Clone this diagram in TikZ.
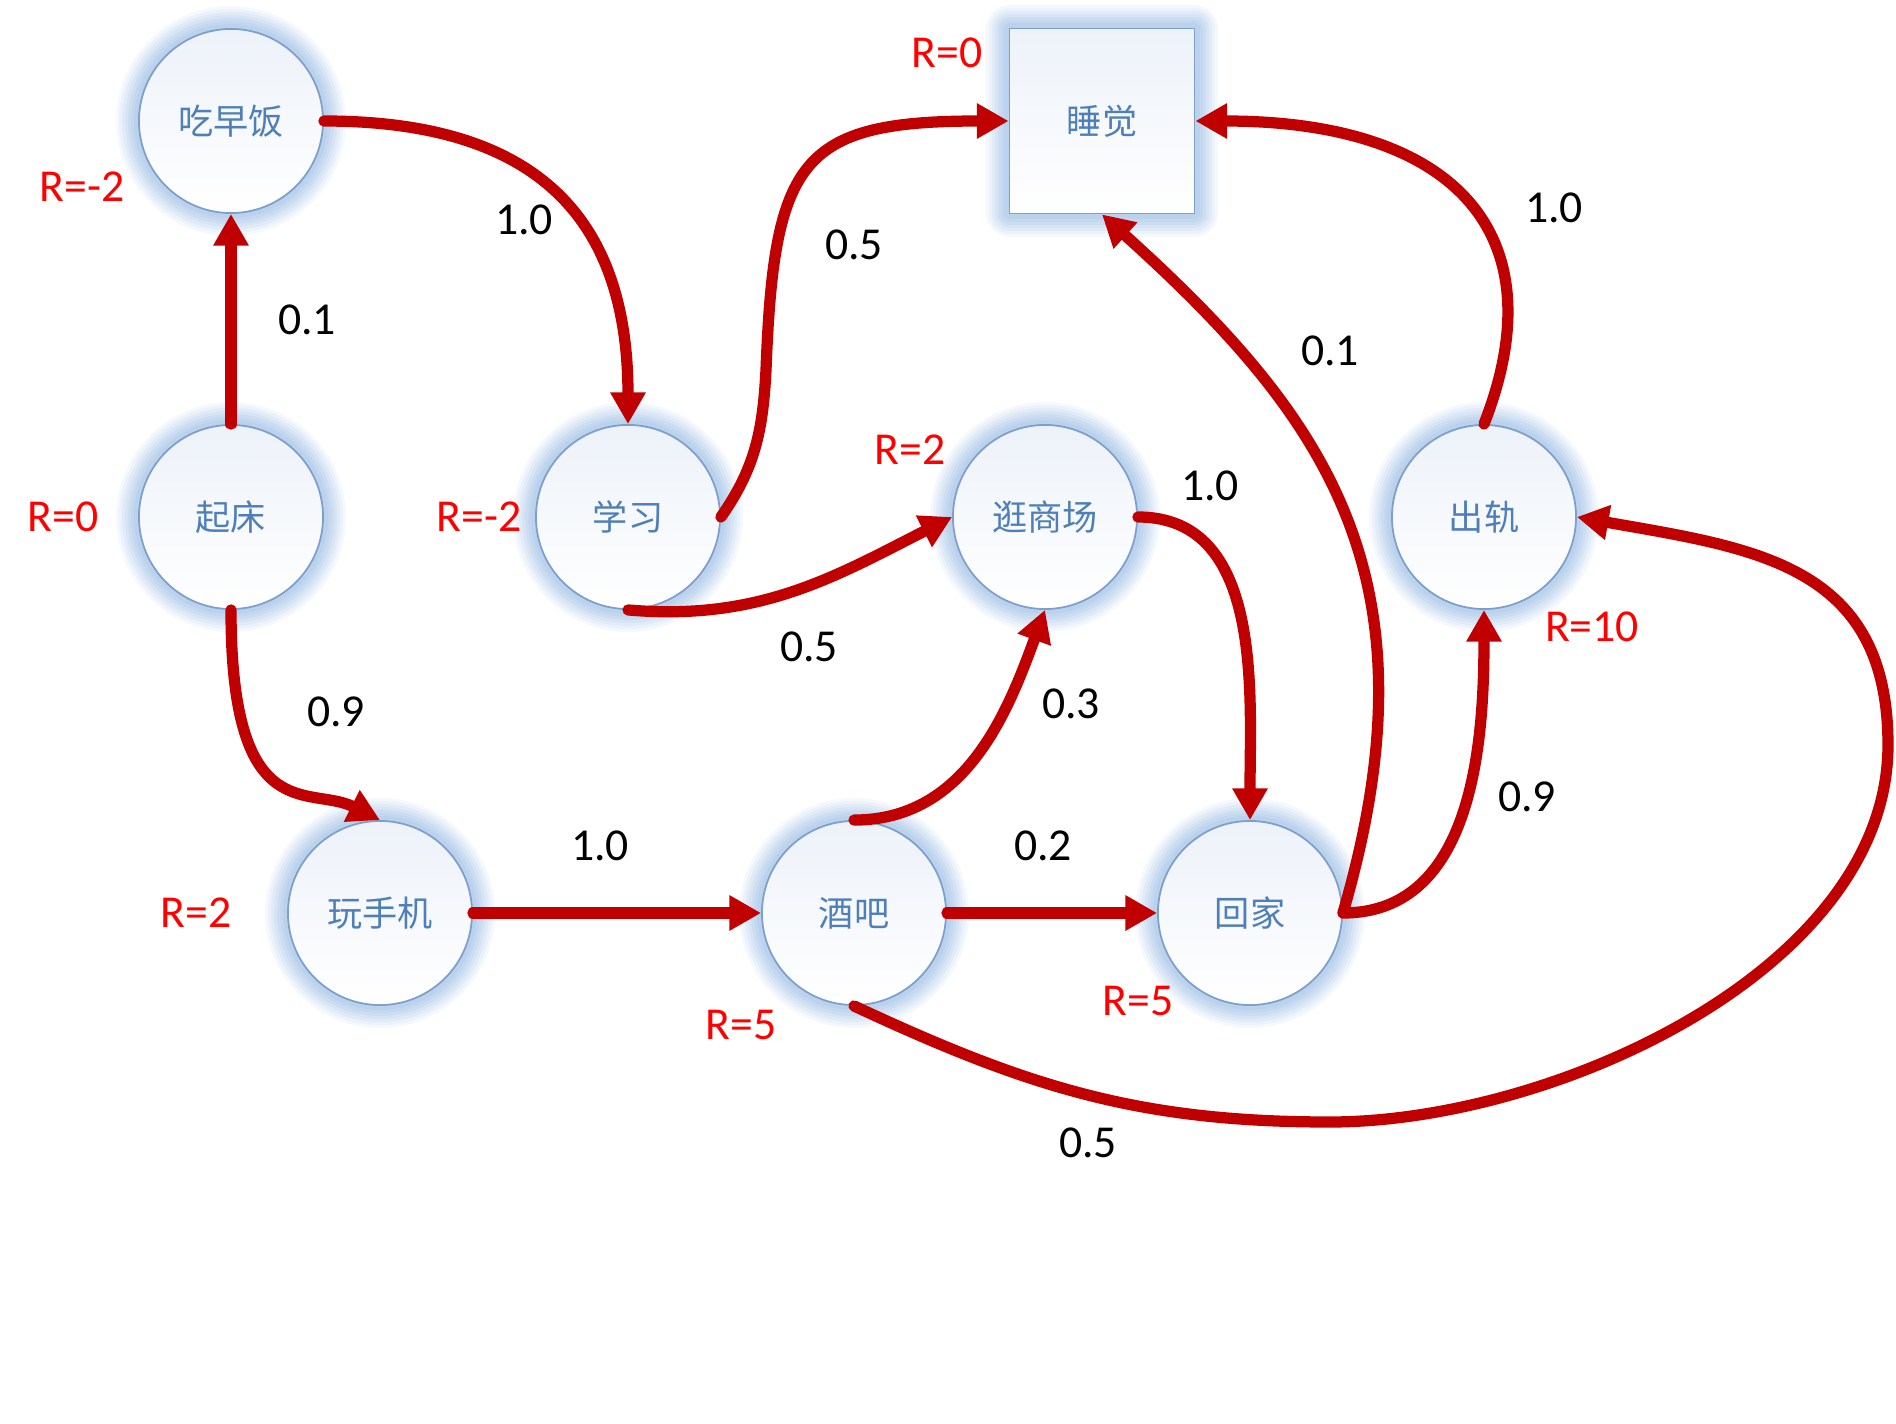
\documentclass[tikz,border=0pt]{standalone}
\usepackage{fontspec}
\setmainfont{Carlito}
\newfontfamily\cjk{Noto Sans CJK SC}
\usetikzlibrary{arrows.meta}

\definecolor{arrowred}{HTML}{C00000}
\definecolor{rewardred}{HTML}{FF0000}
\definecolor{statetext}{HTML}{4F7FB8}
\definecolor{stateline}{HTML}{7E9FCB}
\definecolor{statetop}{HTML}{EDF2F9}
\definecolor{glowblue}{HTML}{9FC0E6}

\tikzset{
  glow/.style={line join=round,
               preaction={draw=glowblue, line width=0.46cm, opacity=0.1},
               preaction={draw=glowblue, line width=0.40cm, opacity=0.12},
               preaction={draw=glowblue, line width=0.34cm, opacity=0.14},
               preaction={draw=glowblue, line width=0.28cm, opacity=0.16},
               preaction={draw=glowblue, line width=0.22cm, opacity=0.18},
               preaction={draw=glowblue, line width=0.16cm, opacity=0.2},
               preaction={draw=glowblue, line width=0.10cm, opacity=0.22}},
  state/.style={circle, minimum size=1.84cm, inner sep=0pt, draw=stateline, line width=0.5pt,
                top color=statetop, bottom color=white, glow, text=statetext,
                font=\cjk\fontsize{10}{12}\selectfont},
  endstate/.style={state, rectangle, minimum size=1.85cm},
  reward/.style={text=rewardred, font=\fontsize{13}{15}\selectfont},
  prob/.style={text=black, font=\fontsize{13}{15}\selectfont},
  flow/.style={draw=arrowred, line width=3.2pt, line cap=round,
               -{Triangle[length=9pt,width=9.5pt]}}
}

\begin{document}
\begin{tikzpicture}[x=0.01cm, y=-0.01cm]
    \useasboundingbox (0,0) rectangle (1896,1424);

    % states
    \node[state] (bf) at (231,121) {吃早饭};
    \node[state] (getup) at (231,517) {起床};
    \node[state] (study) at (628,517) {学习};
    \node[state] (mall) at (1045,517) {逛商场};
    \node[state] (cheat) at (1484,517) {出轨};
    \node[state] (phone) at (380,913) {玩手机};
    \node[state] (bar) at (854,913) {酒吧};
    \node[state] (home) at (1250,913) {回家};
    \node[endstate] (sleep) at (1102,121) {睡觉};

    % rewards
    \node[reward] (rbf) at (82,187) {R=-2};
    \node[reward] (rgetup) at (63,517) {R=0};
    \node[reward] (rstudy) at (479,517) {R=-2};
    \node[reward] (rmall) at (910,450) {R=2};
    \node[reward] (rsleep) at (947,53) {R=0};
    \node[reward] (rcheat) at (1592,627) {R=10};
    \node[reward] (rphone) at (196,913) {R=2};
    \node[reward] (rbar) at (741,1025) {R=5};
    \node[reward] (rhome) at (1138,1001) {R=5};

    % transitions
    \draw[flow] (getup) -- (bf);
    \draw[flow] (bf.east) to[out=0, in=90, looseness=1.25] (study.north);
    \coordinate (studyup) at (766,370);
    \draw[flow] (study.east) to[out=55, in=-93] (studyup)
        .. controls (774,160) and (800,121) .. (sleep.west);
    \draw[flow] (study.south) to[out=-5, in=207] (mall.west);
    \draw[flow] (getup.south) .. controls (231,830) and (310,785) .. (phone.north);
    \draw[flow] (phone) -- (bar);
    \draw[flow] (bar) -- (home);
    \draw[flow] (bar.north) to[out=0, in=-110] (mall.south);
    \draw[flow] (mall.east) to[out=0, in=90] (home.north);
    \draw[flow] (home.east) .. controls (1440,580) and (1330,420) .. (sleep.south);
    \draw[flow] (home.east) to[out=0, in=-90] (cheat.south);
    \draw[flow] (cheat.north) .. controls (1560,230) and (1450,121) .. (sleep.east);
    \coordinate (loopbottom) at (1330,1122);
    \coordinate (loopright) at (1888,745);
    \draw[flow] (bar.south) to[out=-25, in=180] (loopbottom)
        to[out=0, in=-90, looseness=0.85] (loopright)
        to[out=90, in=-10, looseness=1.2] (cheat.east);

    % probabilities
    \node[prob] (p1) at (524,220) {1.0};
    \node[prob] (p2) at (307,320) {0.1};
    \node[prob] (p3) at (854,245) {0.5};
    \node[prob] (p4) at (1554,208) {1.0};
    \node[prob] (p5) at (1330,351) {0.1};
    \node[prob] (p6) at (1210,486) {1.0};
    \node[prob] (p7) at (809,647) {0.5};
    \node[prob] (p8) at (1071,704) {0.3};
    \node[prob] (p9) at (336,712) {0.9};
    \node[prob] (p10) at (600,846) {1.0};
    \node[prob] (p11) at (1043,846) {0.2};
    \node[prob] (p12) at (1527,797) {0.9};
    \node[prob] (p13) at (1088,1143) {0.5};
\end{tikzpicture}
\end{document}
